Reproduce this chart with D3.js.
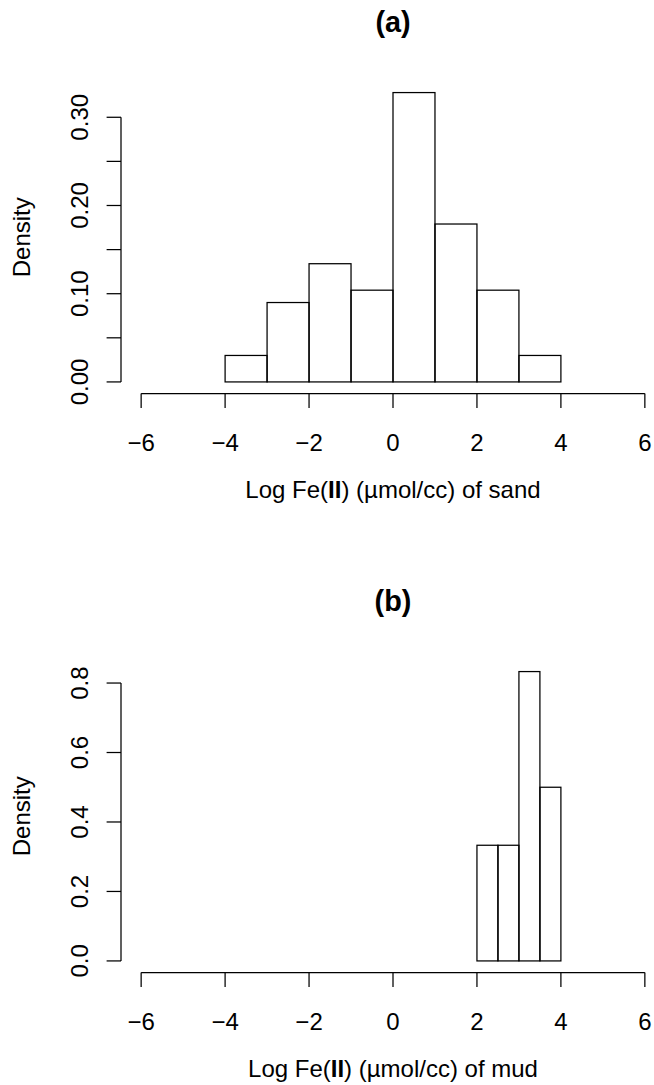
<!DOCTYPE html>
<html>
<head>
<meta charset="utf-8">
<script src="https://cdn.jsdelivr.net/npm/d3@7"></script>
<style>
  html, body { margin: 0; padding: 0; background: #fff; }
  svg { display: block; font-family: "Liberation Sans", Arial, Helvetica, sans-serif; }
</style>
</head>
<body>
<div id="chart"></div>
<script>
(function () {
    // Histogram data
    var sandBreaks = [-4, -3, -2, -1, 0, 1, 2, 3, 4];
    var sandDensity = [0.030, 0.090, 0.134, 0.104, 0.328, 0.179, 0.104, 0.030];
    var sandYTicks = [0, 0.05, 0.10, 0.15, 0.20, 0.25, 0.30];
    var sandYLabels = ['0.00', '', '0.10', '', '0.20', '', '0.30'];

    var mudBreaks = [2, 2.5, 3, 3.5, 4];
    var mudDensity = [0.333, 0.333, 0.833, 0.500];
    var mudYTicks = [0, 0.2, 0.4, 0.6, 0.8];
    var mudYLabels = ['0.0', '0.2', '0.4', '0.6', '0.8'];

    var xTicks = [-6, -4, -2, 0, 2, 4, 6];

    // Layout
    var W = 654, H = 1085;
    var PLOT_L = 121, PLOT_R = 665;
    var PLOT_H = 312.5;
    var TCL = 14.4;
    var FONT = 24;
    var LW = 1.25;

    var svg = d3.select('#chart').append('svg')
        .attr('width', W).attr('height', H);

    var x = d3.scaleLinear().domain([-6.48, 6.48]).range([PLOT_L, PLOT_R]);

    function panel(opts) {
        var top = opts.top, bottom = top + PLOT_H;
        var ymax = d3.max(opts.density);
        var y = d3.scaleLinear()
            .domain([-0.04 * ymax, 1.04 * ymax])
            .range([bottom, top]);

        var g = svg.append('g');

        // bars
        var bins = opts.density.map(function (d, i) {
            return { x0: opts.breaks[i], x1: opts.breaks[i + 1], d: d };
        });
        g.selectAll('rect.bar').data(bins).join('rect')
            .attr('class', 'bar')
            .attr('x', function (b) { return x(b.x0); })
            .attr('y', function (b) { return y(b.d); })
            .attr('width', function (b) { return x(b.x1) - x(b.x0); })
            .attr('height', function (b) { return y(0) - y(b.d); })
            .attr('fill', 'none')
            .attr('stroke', '#000')
            .attr('stroke-width', LW);

        // x axis
        var xa = g.append('g').attr('transform', 'translate(0,' + bottom + ')');
        xa.append('line')
            .attr('x1', x(xTicks[0])).attr('x2', x(xTicks[xTicks.length - 1]))
            .attr('stroke', '#000').attr('stroke-width', LW);
        xa.selectAll('line.tk').data(xTicks).join('line')
            .attr('class', 'tk')
            .attr('x1', x).attr('x2', x)
            .attr('y1', 0).attr('y2', TCL)
            .attr('stroke', '#000').attr('stroke-width', LW);
        xa.selectAll('text').data(xTicks).join('text')
            .attr('x', x).attr('y', 57)
            .attr('text-anchor', 'middle')
            .attr('font-size', FONT)
            .text(d3.format('d'));

        // y axis
        var ya = g.append('g').attr('transform', 'translate(' + PLOT_L + ',0)');
        ya.append('line')
            .attr('y1', y(opts.yTicks[0])).attr('y2', y(opts.yTicks[opts.yTicks.length - 1]))
            .attr('stroke', '#000').attr('stroke-width', LW);
        ya.selectAll('line.tk').data(opts.yTicks).join('line')
            .attr('class', 'tk')
            .attr('x1', 0).attr('x2', -TCL)
            .attr('y1', y).attr('y2', y)
            .attr('stroke', '#000').attr('stroke-width', LW);
        ya.selectAll('text').data(opts.yTicks).join('text')
            .attr('transform', function (d) { return 'translate(-33,' + y(d) + ') rotate(-90)'; })
            .attr('text-anchor', 'middle')
            .attr('font-size', FONT)
            .text(function (d, i) { return opts.yLabels[i]; });

        // title, centred on the x range
        g.append('text')
            .attr('x', x(0)).attr('y', top - 49)
            .attr('text-anchor', 'middle')
            .attr('font-size', FONT * 1.2)
            .attr('font-weight', 'bold')
            .text(opts.title);

        // x label with bold II
        var xl = g.append('text')
            .attr('x', x(0)).attr('y', bottom + 104)
            .attr('text-anchor', 'middle')
            .attr('font-size', FONT);
        xl.append('tspan').text('Log Fe(');
        xl.append('tspan').attr('font-weight', 'bold').text('II');
        xl.append('tspan').text(') (\u00b5mol/cc) of ' + opts.material);

        // y label
        g.append('text')
            .attr('transform', 'translate(30,' + (top + bottom) / 2 + ') rotate(-90)')
            .attr('text-anchor', 'middle')
            .attr('font-size', FONT)
            .text('Density');
    }

    panel({ top: 81, breaks: sandBreaks, density: sandDensity,
            yTicks: sandYTicks, yLabels: sandYLabels, title: '(a)', material: 'sand' });
    panel({ top: 660, breaks: mudBreaks, density: mudDensity,
            yTicks: mudYTicks, yLabels: mudYLabels, title: '(b)', material: 'mud' });
}());
</script>
</body>
</html>
